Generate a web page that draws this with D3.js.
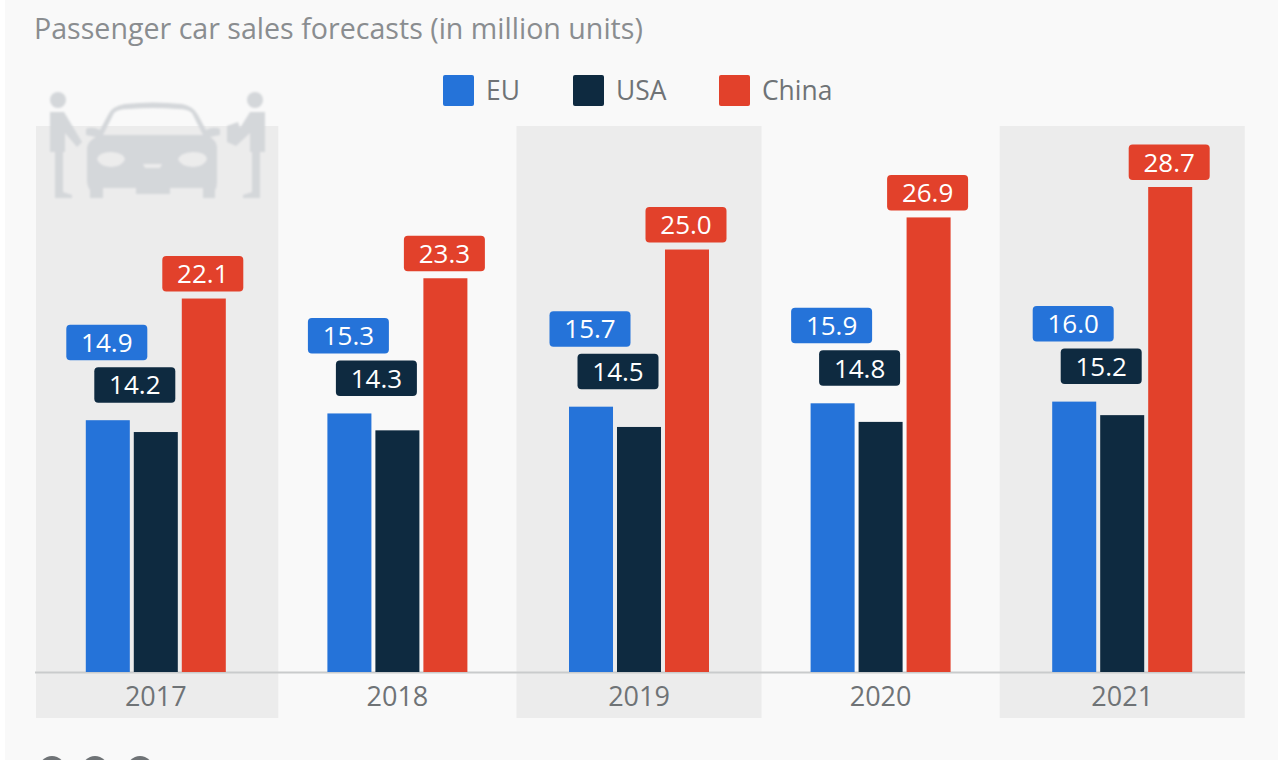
<!DOCTYPE html>
<html><head><meta charset="utf-8">
<script src="https://cdn.jsdelivr.net/npm/d3@7/dist/d3.min.js"></script>
<style>html,body{margin:0;padding:0;background:#fff;overflow:hidden}svg{display:block}text{font-family:"Open Sans","Noto Sans",sans-serif}</style>
</head><body><svg id="c" width="1278" height="760"></svg>
<script>
const years=["2017","2018","2019","2020","2021"];
const seriesNames=["EU","USA","China"];
const seriesColors=["#2573d9","#0e2a40","#e2412b"];
const euValues=[14.9,15.3,15.7,15.9,16.0];
const usaValues=[14.2,14.3,14.5,14.8,15.2];
const chinaValues=[22.1,23.3,25.0,26.9,28.7];
const subtitle="Passenger car sales forecasts (in million units)";
const allValues=[euValues,usaValues,chinaValues];

const svg=d3.select("#c");
const defs=svg.append("defs");
defs.append("filter").attr("id","soft").append("feGaussianBlur").attr("stdDeviation",0.9);
svg.append("rect").attr("x",5).attr("y",0).attr("width",1273).attr("height",760).attr("fill","#f9f9f9");

const x=d3.scaleBand().domain(years).range([35,1243]);
const sub=d3.scaleBand().domain(seriesNames).range([-70,70]).paddingInner(0.083);
const y=d3.scaleLinear().domain([0,28.7]).range([672,187]);
const cx=d=>x(d)+x.bandwidth()/2;

svg.append("g").selectAll("rect").data(years.filter((d,i)=>i%2===0)).join("rect")
 .attr("x",d=>Math.max(36,cx(d)-122.5)).attr("width",d=>cx(d)+122.5-Math.max(36,cx(d)-122.5)).attr("y",126).attr("height",592).attr("fill","#ececec");

svg.append("text").attr("x",34).attr("y",39).attr("font-size",28.6).attr("fill","#8a8d90").text(subtitle);

// legend
const legendX=[443,573,719];
seriesNames.forEach((n,i)=>{
 svg.append("rect").attr("x",legendX[i]).attr("y",75).attr("width",31).attr("height",31).attr("rx",2).attr("fill",seriesColors[i]);
 svg.append("text").attr("x",legendX[i]+43).attr("y",100).attr("font-size",26.4).attr("fill","#6f7376").text(n);
});

// car icon
const ic=svg.append("g").attr("fill","#d4d7da").attr("filter","url(#soft)");
ic.append("path").attr("fill-rule","evenodd").attr("d","M87 165V148Q88 141 96 137L86 135V129Q92 126 100 130L108 115Q112 106 125 104Q153 101 182 104Q193 106 198 115L206 130Q214 126 220 129V135L210 137Q217 141 217 148V180Q217 188 215 190V198H203V188H170V194H136V188H103V198H90V190Q87 186 87 180ZM103 135H203L192 113Q188 109 178 109Q153 107 128 109Q118 109 114 113ZM97 159Q99 152 111 152Q124 153 125 159Q123 166 111 167Q99 166 97 159ZM178 159Q180 153 193 152Q206 152 207 159Q205 166 193 167Q180 166 178 159ZM143 164H162L160 168H145Z");
[[58,100],[255,100]].forEach(p=>ic.append("circle").attr("cx",p[0]).attr("cy",p[1]).attr("r",8));
ic.append("path").attr("d","M50 112H64L82 142L77 147L65 133V152H63V192L72 195V198H55V152H50Z");
ic.append("path").attr("d","M265 112H250L240 128L238 122L227 126V142L236 146L250 133V152H252V192L243 195V198H260V152H265Z");

// axis line and labels
svg.append("line").attr("x1",35).attr("x2",1245).attr("y1",672.5).attr("y2",672.5).attr("stroke","#c9cbcc").attr("stroke-width",2);
const axis=d3.axisBottom(x).tickSize(0).tickPadding(0);
const ag=svg.append("g").attr("transform","translate(0,683)").call(axis);
ag.select(".domain").remove();
ag.selectAll("text").attr("font-size",27).attr("fill","#6f7376").attr("dy","0.86em").style("font-family",'"Open Sans",sans-serif');

// bars
seriesNames.forEach((n,s)=>{
 svg.append("g").selectAll("rect").data(years).join("rect")
  .attr("x",d=>cx(d)+sub(n))
  .attr("width",sub.bandwidth())
  .attr("y",(d,i)=>y(allValues[s][i]))
  .attr("height",(d,i)=>y(0)-y(allValues[s][i]))
  .attr("fill",seriesColors[s]);
});

// value labels: USA labels are pushed aside and stacked just below the EU ones
const labelH=35.5;
const labelCentre=(s,i)=>{
 const bar=cx(years[i])+sub(seriesNames[s])+sub.bandwidth()/2;
 return s===1?bar-21:bar-1;
};
const labelTop=(s,i)=>{
 const euTop=y(euValues[i])-60-labelH;
 if(s===0) return euTop;
 if(s===1) return euTop+labelH+7;
 return y(chinaValues[i])-7-labelH;
};
seriesNames.forEach((n,s)=>{
 const g=svg.append("g").selectAll("g").data(years).join("g")
  .attr("transform",(d,i)=>`translate(${labelCentre(s,i)},${labelTop(s,i)+labelH/2})`);
 g.append("rect").attr("x",-40.5).attr("y",-labelH/2).attr("width",81).attr("height",labelH).attr("rx",4).attr("fill",seriesColors[s]);
 g.append("text").attr("text-anchor","middle").attr("y",9.5).attr("font-size",26).attr("font-weight",500).attr("fill","#fff")
  .text((d,i)=>allValues[s][i].toFixed(1));
});

// share icons, cropped by the page edge
svg.append("g").selectAll("circle").data([52,95,140]).join("circle")
 .attr("cx",d=>d).attr("cy",769).attr("r",13).attr("fill","#6f7376");
</script></body></html>
